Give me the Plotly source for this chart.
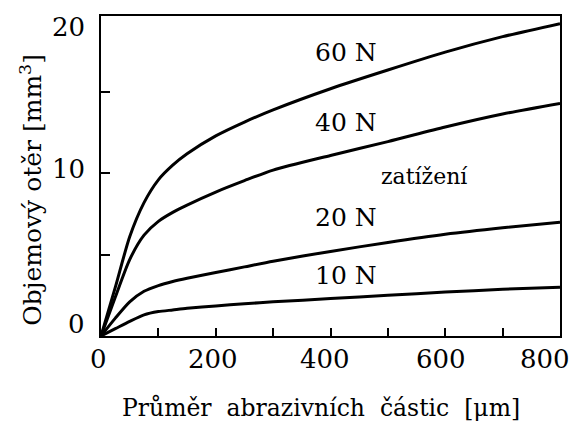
import plotly.graph_objects as go

particle_size = [0, 25, 50, 75, 100, 125, 150, 200, 250, 300, 400, 500, 600, 700, 800]
wear_60N = [0, 3.0, 6.1, 8.2, 9.6, 10.5, 11.2, 12.3, 13.15, 13.9, 15.2, 16.35, 17.45, 18.4, 19.2]
wear_40N = [0, 2.4, 4.7, 6.2, 7.05, 7.6, 8.05, 8.85, 9.55, 10.2, 11.1, 11.95, 12.85, 13.65, 14.3]
wear_20N = [0, 1.1, 2.1, 2.75, 3.1, 3.35, 3.55, 3.9, 4.25, 4.6, 5.2, 5.75, 6.25, 6.65, 7.0]
wear_10N = [0, 0.45, 0.9, 1.3, 1.5, 1.6, 1.7, 1.85, 1.98, 2.1, 2.3, 2.5, 2.7, 2.87, 3.0]

series = [("60 N", wear_60N), ("40 N", wear_40N), ("20 N", wear_20N), ("10 N", wear_10N)]
label_y = {"60 N": 17.4, "40 N": 13.1, "20 N": 7.3, "10 N": 3.7}

x_tick_vals = [0, 200, 400, 600, 800]
x_tick_text = ["0", "200", "400", "600", "800"]
x_tick_shift = [-3, -3, -6, -4, -15]
y_tick_vals = [0, 10, 20]
y_tick_text = ["0", "10", "20"]
y_tick_shift = [12, 4, -16]

Y_MAX = 19.67
FONT = "DejaVu Serif"

fig = go.Figure()
for name, vals in series:
    fig.add_trace(go.Scatter(x=particle_size, y=vals, mode="lines", name=name,
                             line=dict(color="black", width=3, shape="spline", smoothing=0.7),
                             showlegend=False))

for name, _ in series:
    fig.add_annotation(x=427, y=label_y[name], text=name, showarrow=False,
                       xanchor="center", yanchor="middle",
                       font=dict(family=FONT, size=25, color="black"))
fig.add_annotation(x=564, y=9.8, text="zatížení", showarrow=False,
                   xanchor="center", yanchor="middle",
                   font=dict(family=FONT, size=22, color="black"))

for v, t, s in zip(x_tick_vals, x_tick_text, x_tick_shift):
    fig.add_annotation(x=v, y=0, text=t, showarrow=False, xanchor="center", yanchor="middle",
                       xshift=s, yshift=-23, font=dict(family=FONT, size=26, color="black"))
for v, t, s in zip(y_tick_vals, y_tick_text, y_tick_shift):
    fig.add_annotation(xref="x", yref="paper", x=0, y=v / Y_MAX, text=t, showarrow=False,
                       xanchor="right", yanchor="middle",
                       xshift=-14, yshift=s, font=dict(family=FONT, size=26, color="black"))

fig.add_annotation(xref="paper", yref="paper", x=0.48, y=-0.225,
                   text="Průměr\u00a0 abrazivních\u00a0 částic\u00a0 [μm]", showarrow=False,
                   xanchor="center", yanchor="middle",
                   font=dict(family=FONT, size=23.5, color="black"))
fig.add_annotation(xref="paper", yref="paper", x=-0.153, y=0.456,
                   text="Objemový otěr [mm<sup>3</sup>]", showarrow=False, textangle=-90,
                   xanchor="center", yanchor="middle",
                   font=dict(family=FONT, size=25, color="black"))

fig.update_xaxes(range=[0, 800], tickvals=list(range(0, 801, 100)), ticks="inside", ticklen=8,
                 tickwidth=1.5, tickcolor="black", showticklabels=False, showgrid=False,
                 zeroline=False, showline=True, linecolor="black", linewidth=2, mirror=True)
fig.update_yaxes(range=[0, Y_MAX], tickvals=[0, 5, 10, 15], ticks="inside", ticklen=9,
                 tickwidth=1.5, tickcolor="black", showticklabels=False, showgrid=False,
                 zeroline=False, showline=True, linecolor="black", linewidth=2, mirror=True)

fig.update_layout(width=571, height=426, margin=dict(l=101, r=9, t=16, b=90),
                  paper_bgcolor="white", plot_bgcolor="white")

fig.write_html("out.html")
